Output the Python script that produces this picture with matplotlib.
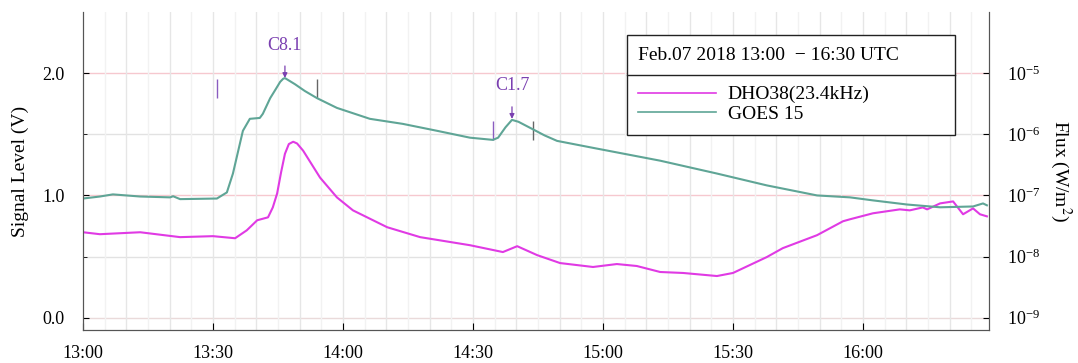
import numpy as np
import matplotlib
matplotlib.use("Agg")
import matplotlib.pyplot as plt
from matplotlib.lines import Line2D

plt.rcParams['font.family'] = ['Liberation Serif', 'DejaVu Serif']
plt.rcParams['mathtext.fontset'] = 'stix'

# minutes after 13:00 UT
dho_t = [0, 3.9, 13.2, 22.4, 30.0, 35.1, 37.8, 40.2, 42.7, 43.8, 44.8, 45.7, 46.6,
         47.5, 48.5, 49.4, 50.8, 54.7, 58.6, 62.3, 70.2, 77.8, 89.3, 96.9, 100.2, 104.8, 110.1,
         117.7, 123.2, 127.8, 133.2, 138.5, 146.3, 150.0, 153.9, 157.8, 161.5, 169.4,
         175.4, 177.0, 182.3, 188.5, 190.8, 193.8, 194.8, 197.8, 200.8, 203.1, 205.4,
         207.0, 208.6]
dho_v = [0.699, 0.683, 0.699, 0.659, 0.667, 0.650, 0.715, 0.797, 0.821, 0.902, 1.016,
         1.187, 1.340, 1.420, 1.439, 1.425, 1.366, 1.146, 0.984, 0.878, 0.740, 0.659, 0.593, 0.537,
         0.585, 0.512, 0.447, 0.415, 0.439, 0.423, 0.374, 0.366, 0.341, 0.366, 0.431,
         0.496, 0.569, 0.675, 0.789, 0.805, 0.854, 0.886, 0.878, 0.902, 0.886, 0.935,
         0.951, 0.846, 0.894, 0.846, 0.829]

goes_t = [0, 3.9, 6.9, 13.2, 20.1, 20.8, 22.4, 30.9, 33.2, 34.6, 36.2, 36.9, 38.5,
          40.8, 41.5, 43.2, 44.5, 45.5, 46.2, 46.6, 48.9, 51.2, 54.0, 58.6, 66.2, 73.8,
          81.7, 89.3, 94.6, 95.8, 97.5, 99.0, 100.5, 103.6, 106.5, 109.4, 117.7, 133.2,
          146.3, 157.8, 169.4, 177.0, 182.3, 190.2, 197.8, 205.4, 207.7, 208.6]
goes_flux = [8.9e-8, 9.6e-8, 1.04e-7, 9.6e-8, 9.3e-8, 9.7e-8, 8.7e-8, 8.9e-8, 1.12e-7,
             2.28e-7, 7.0e-7, 1.14e-6, 1.79e-6, 1.85e-6, 2.16e-6, 3.9e-6, 5.5e-6, 7.2e-6,
             8.1e-6, 8.3e-6, 6.6e-6, 5.1e-6, 3.9e-6, 2.7e-6, 1.79e-6, 1.48e-6, 1.14e-6,
             8.8e-7, 8.1e-7, 8.8e-7, 1.3e-6, 1.72e-6, 1.6e-6, 1.23e-6, 9.6e-7, 7.8e-7,
             6.0e-7, 3.7e-7, 2.28e-7, 1.46e-7, 1.0e-7, 9.3e-8, 8.3e-8, 7.1e-8, 6.4e-8,
             6.6e-8, 7.4e-8, 6.9e-8]

flare_names = ['C8.1', 'C1.7']
flare_peak_t = [46.6, 99.0]
flare_peak_v = [1.96, 1.626]
flare_start_t = [30.9, 94.6]
flare_end_t = [54.0, 103.8]
flare_mark_lo = [1.80, 1.45]
flare_mark_hi = [1.95, 1.61]

tick_minutes = [0, 30, 60, 90, 120, 150, 180]
tick_labels = ['13:00', '13:30', '14:00', '14:30', '15:00', '15:30', '16:00']

dho_color = '#e03ae4'
goes_color = '#5fa596'
flare_color = '#7a3fb0'

fig = plt.figure(figsize=(10.78, 3.63), dpi=100)
ax = fig.add_axes([0.077, 0.091, 0.8405, 0.876])
ax2 = ax.twinx()

ax.set_xlim(0, 209.1)
ax.set_ylim(-0.1, 2.5)
ax2.set_yscale('log')
ax2.set_ylim(10 ** -9.2, 10 ** -4)

# grid
for v, c in [(0.0, '#eadada'), (0.5, '#e2e2e2'), (1.0, '#f6c8cf'), (1.5, '#e2e2e2'), (2.0, '#f6c8cf')]:
    ax.axhline(v, color=c, lw=1.0, zorder=0)
for m in np.arange(5, 210, 5):
    ax.axvline(m, color='#e6e6e6' if m % 10 == 0 else '#f2f2f2', lw=1.0, zorder=0)

ax.plot(dho_t, dho_v, color=dho_color, lw=1.5, zorder=3)
ax2.plot(goes_t, goes_flux, color=goes_color, lw=1.5, zorder=2)

# flare markers
for name, tp, vp, ts, te, lo, hi in zip(flare_names, flare_peak_t, flare_peak_v,
                                        flare_start_t, flare_end_t, flare_mark_lo, flare_mark_hi):
    ax.annotate(name, xy=(tp, vp), xytext=(tp, vp + 0.27), ha='center', va='center',
                fontsize=13, color=flare_color,
                arrowprops=dict(arrowstyle='-|>', color=flare_color, lw=0.9,
                                mutation_scale=7, shrinkA=7, shrinkB=0))
    ax.vlines([ts, te], lo, hi, colors=['#8a5cc0', '#666666'], lw=1.0, zorder=4)

ax.set_xticks(tick_minutes)
ax.set_xticklabels(tick_labels)
ax.set_xticks(np.arange(0, 210, 5), minor=True)
ax.set_yticks([0, 1, 2])
ax.set_yticklabels(['0.0', '1.0', '2.0'])
ax.set_yticks([0.5, 1.5], minor=True)
ax.tick_params(axis='both', which='both', direction='in', labelsize=13)
ax.tick_params(axis='x', which='major', length=5, pad=11)
ax.tick_params(axis='x', which='minor', length=3)
ax.tick_params(axis='y', which='major', length=4, pad=13)
ax.tick_params(axis='y', which='minor', length=3)
ax2.set_yticks([1e-9, 1e-8, 1e-7, 1e-6, 1e-5])
ax2.minorticks_off()
ax2.tick_params(axis='y', direction='in', length=4, labelsize=13, pad=13)

for a in (ax, ax2):
    a.spines['top'].set_visible(False)
    for s in ('left', 'right', 'bottom'):
        a.spines[s].set_color('#555555')

ax.set_ylabel('Signal Level (V)', fontsize=14, labelpad=10)
ax2.set_ylabel('Flux (W/m$^2$)', fontsize=14, rotation=270, labelpad=24)

handles = [Line2D([], [], color=dho_color, lw=1.2), Line2D([], [], color=goes_color, lw=1.2)]
leg = ax.legend(handles, ['DHO38(23.4kHz)', 'GOES 15'],
                title='Feb.07 2018 13:00  \u2212 16:30 UTC', title_fontsize=14,
                loc='upper left', bbox_to_anchor=(0.600, 0.60, 0.3625, 0.328), mode='expand',
                borderaxespad=0, fontsize=14, frameon=True, fancybox=False,
                edgecolor='#222222', framealpha=1,
                handlelength=4.0, handletextpad=0.6, borderpad=0.6,
                labelspacing=0.1, alignment='left')
leg.get_frame().set_linewidth(1.0)
leg.set_zorder(10)
leg._legend_box.sep = 16

fig.canvas.draw()
fb = leg.get_frame().get_window_extent()
tb = leg.get_title().get_window_extent()
hb = leg.get_texts()[0].get_window_extent()
sep_y = 0.5 * (tb.y0 + hb.y1) / fig.bbox.height
fig.add_artist(Line2D([fb.x0 / fig.bbox.width, fb.x1 / fig.bbox.width], [sep_y, sep_y],
                      color='#222222', lw=1.0, zorder=11))

fig.savefig('out.png', dpi=100)
